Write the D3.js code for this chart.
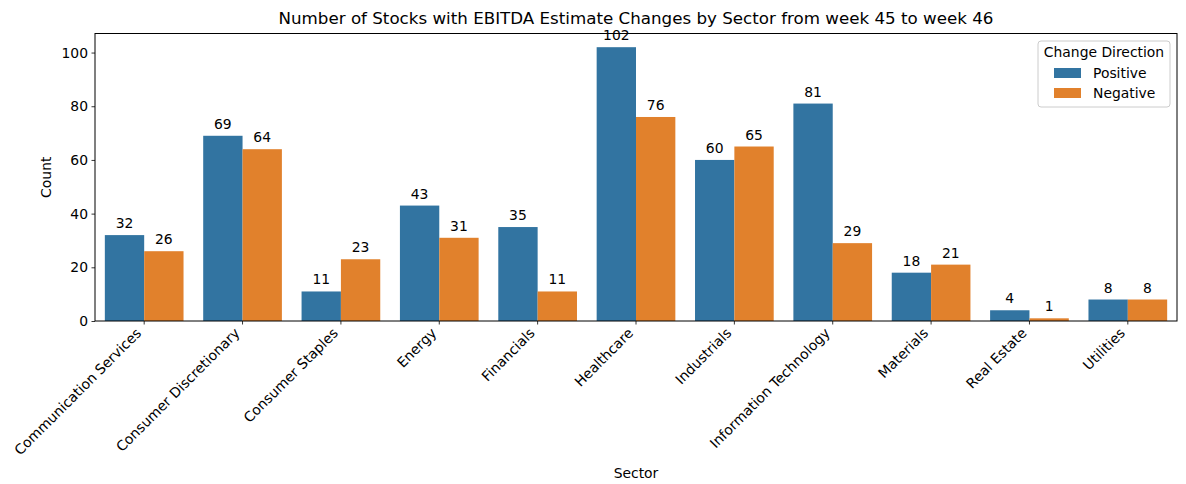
<!DOCTYPE html>
<html>
<head>
<meta charset="utf-8">
<script src="https://cdn.jsdelivr.net/npm/d3@7"></script>
<style>
  body { margin: 0; background: #fff; }
  svg text { font-family: "DejaVu Sans", sans-serif; fill: #000; }
</style>
</head>
<body>
<svg id="chart" width="1186" height="484"></svg>
<script>
// data
const sectors = ["Communication Services", "Consumer Discretionary", "Consumer Staples", "Energy",
  "Financials", "Healthcare", "Industrials", "Information Technology", "Materials", "Real Estate", "Utilities"];
const directions = ["Positive", "Negative"];
const positiveCounts = [32, 69, 11, 43, 35, 102, 60, 81, 18, 4, 8];
const negativeCounts = [26, 64, 23, 31, 11, 76, 65, 29, 21, 1, 8];
const yTicks = [0, 20, 40, 60, 80, 100];
const colors = { Positive: "#3274a1", Negative: "#e1812c" };

const svg = d3.select("#chart");
const plotLeft = 95, plotRight = 1177, plotBottom = 321, plotTop = 33.5;

const rows = sectors.map((s, i) => ({ sector: s, Positive: positiveCounts[i], Negative: negativeCounts[i] }));
const ymax = d3.max([...positiveCounts, ...negativeCounts]) * 1.05;

const x = d3.scaleBand().domain(sectors).range([plotLeft, plotRight]).padding(0);
const bw = x.bandwidth();
const xInner = d3.scaleBand().domain(directions).range([0.1 * bw, 0.9 * bw]).padding(0);
const y = d3.scaleLinear().domain([0, ymax]).range([plotBottom, plotTop]);

// bars
const groups = svg.append("g").selectAll("g")
  .data(rows).enter().append("g")
  .attr("transform", d => `translate(${x(d.sector)},0)`);

groups.selectAll("rect")
  .data(d => directions.map(k => ({ key: k, value: d[k] })))
  .enter().append("rect")
  .attr("x", d => xInner(d.key))
  .attr("width", xInner.bandwidth())
  .attr("y", d => y(d.value))
  .attr("height", d => plotBottom - y(d.value))
  .attr("fill", d => colors[d.key]);

// axes
const yAxis = svg.append("g")
  .attr("transform", `translate(${plotLeft},0)`)
  .call(d3.axisLeft(y).tickValues(yTicks).tickSize(3.5).tickPadding(3.5).tickFormat(d3.format("d")));
yAxis.select(".domain").remove();
yAxis.selectAll("text").style("font-size", "13.9px").style("font-family", "DejaVu Sans");
yAxis.selectAll("line").attr("stroke", "#000").attr("stroke-width", 0.8);

const xAxis = svg.append("g")
  .attr("transform", `translate(0,${plotBottom})`)
  .call(d3.axisBottom(x).tickSize(3.5).tickFormat(""));
xAxis.select(".domain").remove();
xAxis.selectAll("line").attr("stroke", "#000").attr("stroke-width", 0.8);

// rotated tick labels
svg.append("g").selectAll("text")
  .data(sectors).enter().append("text")
  .attr("transform", d => `translate(${x(d) + bw / 2 - 2},${plotBottom + 13}) rotate(-45)`)
  .attr("text-anchor", "end")
  .style("font-size", "13.9px")
  .text(d => d);

// frame
svg.append("rect")
  .attr("x", plotLeft).attr("y", plotTop)
  .attr("width", plotRight - plotLeft).attr("height", plotBottom - plotTop)
  .attr("fill", "none").attr("stroke", "#000").attr("stroke-width", 1);

// bar value labels (drawn over frame, like the reference)
groups.selectAll("text.val")
  .data(d => directions.map(k => ({ key: k, value: d[k] })))
  .enter().append("text")
  .attr("class", "val")
  .attr("x", d => xInner(d.key) + xInner.bandwidth() / 2)
  .attr("y", d => y(d.value) - 7)
  .attr("text-anchor", "middle")
  .style("font-size", "13.9px")
  .text(d => d.value);

// titles
svg.append("text")
  .attr("x", (plotLeft + plotRight) / 2).attr("y", 24)
  .attr("text-anchor", "middle")
  .style("font-size", "16.7px")
  .text("Number of Stocks with EBITDA Estimate Changes by Sector from week 45 to week 46");

svg.append("text")
  .attr("transform", `translate(51,${(plotTop + plotBottom) / 2}) rotate(-90)`)
  .attr("text-anchor", "middle")
  .style("font-size", "13.9px")
  .text("Count");

svg.append("text")
  .attr("x", (plotLeft + plotRight) / 2).attr("y", 478)
  .attr("text-anchor", "middle")
  .style("font-size", "13.9px")
  .text("Sector");

// legend
const legend = svg.append("g").attr("transform", "translate(1038,41)");
legend.append("rect")
  .attr("width", 132).attr("height", 66).attr("rx", 3)
  .attr("fill", "#fff").attr("fill-opacity", 0.8)
  .attr("stroke", "#ccc");
legend.append("text")
  .attr("x", 66).attr("y", 16)
  .attr("text-anchor", "middle")
  .style("font-size", "13.9px")
  .text("Change Direction");
directions.forEach((k, i) => {
  legend.append("rect")
    .attr("x", 16).attr("y", 27 + i * 20)
    .attr("width", 27).attr("height", 10)
    .attr("fill", colors[k]);
  legend.append("text")
    .attr("x", 55).attr("y", 37 + i * 20)
    .style("font-size", "13.9px")
    .text(k);
});
</script>
</body>
</html>
